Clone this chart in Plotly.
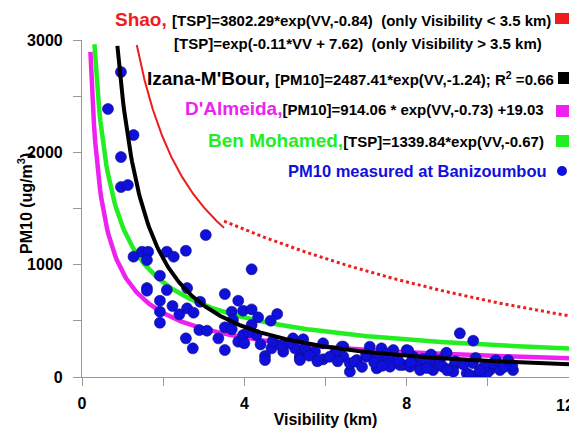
import numpy as np
import plotly.graph_objects as go

# Measured PM10 at Banizoumbou (visibility km, PM10 ug/m3)
vis = [0.96, 0.64, 1.27, 0.96, 0.96, 1.13, 3.05, 1.27, 1.48, 1.63, 1.60, 2.09, 2.26, 2.56,
       1.92, 1.60, 2.59, 1.60, 2.09, 1.92, 2.23, 2.40, 2.59, 2.75, 2.91, 1.92, 1.92, 2.89,
       3.08, 2.56, 2.73, 4.18, 3.52, 3.85, 3.69, 3.97, 4.18, 4.34, 4.81, 4.65, 3.52, 3.69,
       3.85, 3.36, 3.52, 3.97, 4.30, 4.67, 4.51, 4.96, 5.25, 5.37, 5.45, 5.20, 5.74, 4.18,
       3.72, 5.94, 6.44, 6.60, 6.77, 7.09, 7.38, 7.67, 8.00, 7.26, 7.01, 7.50, 7.91, 8.33,
       8.65, 8.98, 9.31, 9.64, 9.15, 9.48, 9.80, 10.05, 10.30, 10.62, 10.60, 10.13, 9.63,
       8.82, 8.16, 7.75, 7.26, 6.44, 6.60, 5.94, 6.40, 6.23, 6.72, 7.30, 7.59, 7.83, 8.08,
       5.37, 8.04, 8.98, 8.33, 8.65, 9.15, 9.56, 9.97, 8.82, 4.51, 5.37,
       7.00, 7.20, 7.50, 7.80, 8.10, 8.40, 8.60, 8.90, 9.20, 9.40, 9.70, 9.90, 10.20, 10.40,
       10.50, 7.40, 6.90, 8.50, 9.00, 9.80, 5.50, 5.60, 5.80, 6.10, 6.30, 5.10, 4.90, 4.70,
       4.40, 4.10, 4.00]
pm10 = [2715, 2386, 2154, 1958, 1691, 1709, 1264, 1071, 1115, 1115, 1041, 1115, 1071, 1124,
        902, 792, 792, 768, 774, 679, 632, 558, 611, 573, 670, 581, 483, 418,
        412, 344, 255, 959, 739, 679, 581, 590, 602, 531, 561, 501, 442, 425,
        314, 344, 240, 374, 374, 255, 187, 225, 255, 187, 336, 344, 225, 463,
        507, 300, 270, 47, 151, 270, 255, 240, 240, 77, 181, 151, 107, 107,
        122, 211, 389, 323, 92, 33, 33, 62, 62, 62, 107, 122, 124,
        151, 181, 166, 181, 181, 122, 157, 270, 211, 136, 92, 92, 107, 92,
        166, 234, 216, 62, 62, 47, 18, 33, 107, 151, 151,
        200, 130, 210, 140, 130, 160, 200, 90, 140, 110, 170, 90, 150, 90,
        150, 100, 90, 80, 60, 60, 260, 190, 140, 180, 140, 300, 280, 320,
        290, 400, 300]

# Fit coefficients shown in the legend
shao_a, shao_b = 3802.29, -0.84
shao2_k, shao2_c = -0.11, 7.62
izana_a, izana_b = 2487.41, -1.24
dalm_a, dalm_b, dalm_c = 914.06, -0.73, 19.03
ben_a, ben_b = 1339.84, -0.67

x_ticks = [0, 4, 8]
x_edge_tick = 12
x_minor = [2, 6, 10, 12]
y_ticks = [0, 1000, 2000, 3000]
y_minor = [500, 1500, 2500]

RED = '#ee1c1c'
MAG = '#ee22ee'
GRN = '#22ee22'
BLU = '#1010dd'

fig = go.Figure()

v = np.linspace(0.208, 12, 400)
fig.add_trace(go.Scatter(x=v, y=dalm_a * v ** dalm_b + dalm_c, mode='lines',
                         line=dict(color=MAG, width=4.5), showlegend=False))
v = np.linspace(0.306, 12, 400)
fig.add_trace(go.Scatter(x=v, y=ben_a * v ** ben_b, mode='lines',
                         line=dict(color=GRN, width=4.5), showlegend=False))

fig.add_trace(go.Scatter(x=vis, y=pm10, mode='markers',
                         marker=dict(color=BLU, size=11, line=dict(color='#0a0a80', width=0.6)),
                         showlegend=False))

v = np.linspace(0.872, 12, 400)
fig.add_trace(go.Scatter(x=v, y=izana_a * v ** izana_b, mode='lines',
                         line=dict(color='black', width=4), showlegend=False))
v = np.linspace(1.35, 3.5, 200)
fig.add_trace(go.Scatter(x=v, y=shao_a * v ** shao_b, mode='lines',
                         line=dict(color=RED, width=2), showlegend=False))
v = np.linspace(3.5, 12, 200)
fig.add_trace(go.Scatter(x=v, y=np.exp(shao2_k * v + shao2_c), mode='lines',
                         line=dict(color=RED, width=3, dash='dot'), showlegend=False))

F = 'Liberation Sans, Arial, sans-serif'

# page body adds an 8px margin: work in window coordinates minus that offset
OFF = 8
W, H = 577 - OFF, 436 - 2 * OFF
L, T = 82 - OFF, 40 - OFF
R = W - (569 - OFF)
B = H - (377 - OFF)
pw, ph = W - L - R, H - T - B

def px(xp):
    return (xp - OFF - L) / pw

def py(yp):
    return (H - B - (yp - OFF)) / ph

def ann(xp, yp, text, size=15, color='black', xanchor='right', angle=0):
    fig.add_annotation(xref='paper', yref='paper', x=px(xp), y=py(yp), text=text, showarrow=False,
                       xanchor=xanchor, yanchor='middle', textangle=angle,
                       font=dict(family=F, size=size, color=color))

ann(553, 20, "<b><span style='color:%s;font-size:19px'>Shao, </span>[TSP]=3802.29*exp(VV,-0.84)  (only Visibility &lt; 3.5 km)</b>" % RED)
ann(544, 44, "<b>[TSP]=exp(-0.11*VV + 7.62)  (only Visibility &gt; 3.5 km)</b>")
ann(556, 78, "<b><span style='font-size:19px'>Izana-M'Bour, </span>[PM10]=2487.41*exp(VV,-1.24); R<sup>2</sup> =0.66</b>")
ann(546, 109, "<b><span style='color:%s;font-size:19px'>D'Almeida,</span>[PM10]=914.06 * exp(VV,-0.73) +19.03</b>" % MAG)
ann(546, 140, "<b><span style='color:%s;font-size:19px'>Ben Mohamed,</span>[TSP]=1339.84*exp(VV,-0.67)</b>" % GRN)
ann(549, 171, "<b>PM10 measured at Banizoumbou</b>", size=16.5, color=BLU)
# y-axis title
ann(25, 204, "<b>PM10 (ug/m<sup>3</sup>)</b>", size=16, xanchor='center', angle=-90)
# last x tick label, kept inside the window edge
ann(576, 405, "<b>%d</b>" % x_edge_tick, size=16)

def swatch(x0, y0, x1, y1, color):
    fig.add_shape(type='rect', xref='paper', yref='paper', x0=px(x0), x1=px(x1),
                  y0=py(y1), y1=py(y0), fillcolor=color, line=dict(width=0), layer='above')

swatch(555, 13, 577, 24, RED)
swatch(558, 72, 577, 84, 'black')
swatch(556, 105, 577, 117, MAG)
swatch(556, 135, 577, 147, GRN)
fig.add_shape(type='circle', xref='paper', yref='paper', x0=px(557), x1=px(567),
              y0=py(176), y1=py(166), fillcolor=BLU, line=dict(width=0), layer='above')

axis_common = dict(showline=True, linecolor='#999999', linewidth=1.2, ticks='outside',
                   ticklen=8, tickcolor='#999999', showgrid=False, zeroline=False,
                   automargin=False, ticklabeloverflow='allow',
                   tickfont=dict(family=F, size=16, color='black'))
fig.update_xaxes(range=[0, 12], tickvals=x_ticks, ticktext=['<b>%d</b>' % t for t in x_ticks],
                 minor=dict(tickvals=x_minor, ticks='outside', ticklen=8, tickcolor='#999999', showgrid=False),
                 ticklabelstandoff=4,
                 title=dict(text='<b>Visibility (km)</b>', font=dict(family=F, size=16, color='black'), standoff=4),
                 **axis_common)
fig.update_yaxes(range=[0, 3000], tickvals=y_ticks, ticktext=['<b>%d</b>' % t for t in y_ticks],
                 minor=dict(tickvals=y_minor, ticks='outside', ticklen=8, tickcolor='#999999', showgrid=False),
                 ticklabelstandoff=7,
                 **axis_common)

fig.update_layout(width=W, height=H, margin=dict(l=L, r=R, t=T, b=B, autoexpand=False),
                  plot_bgcolor='white', paper_bgcolor='white', showlegend=False)

fig.write_html('out.html')
